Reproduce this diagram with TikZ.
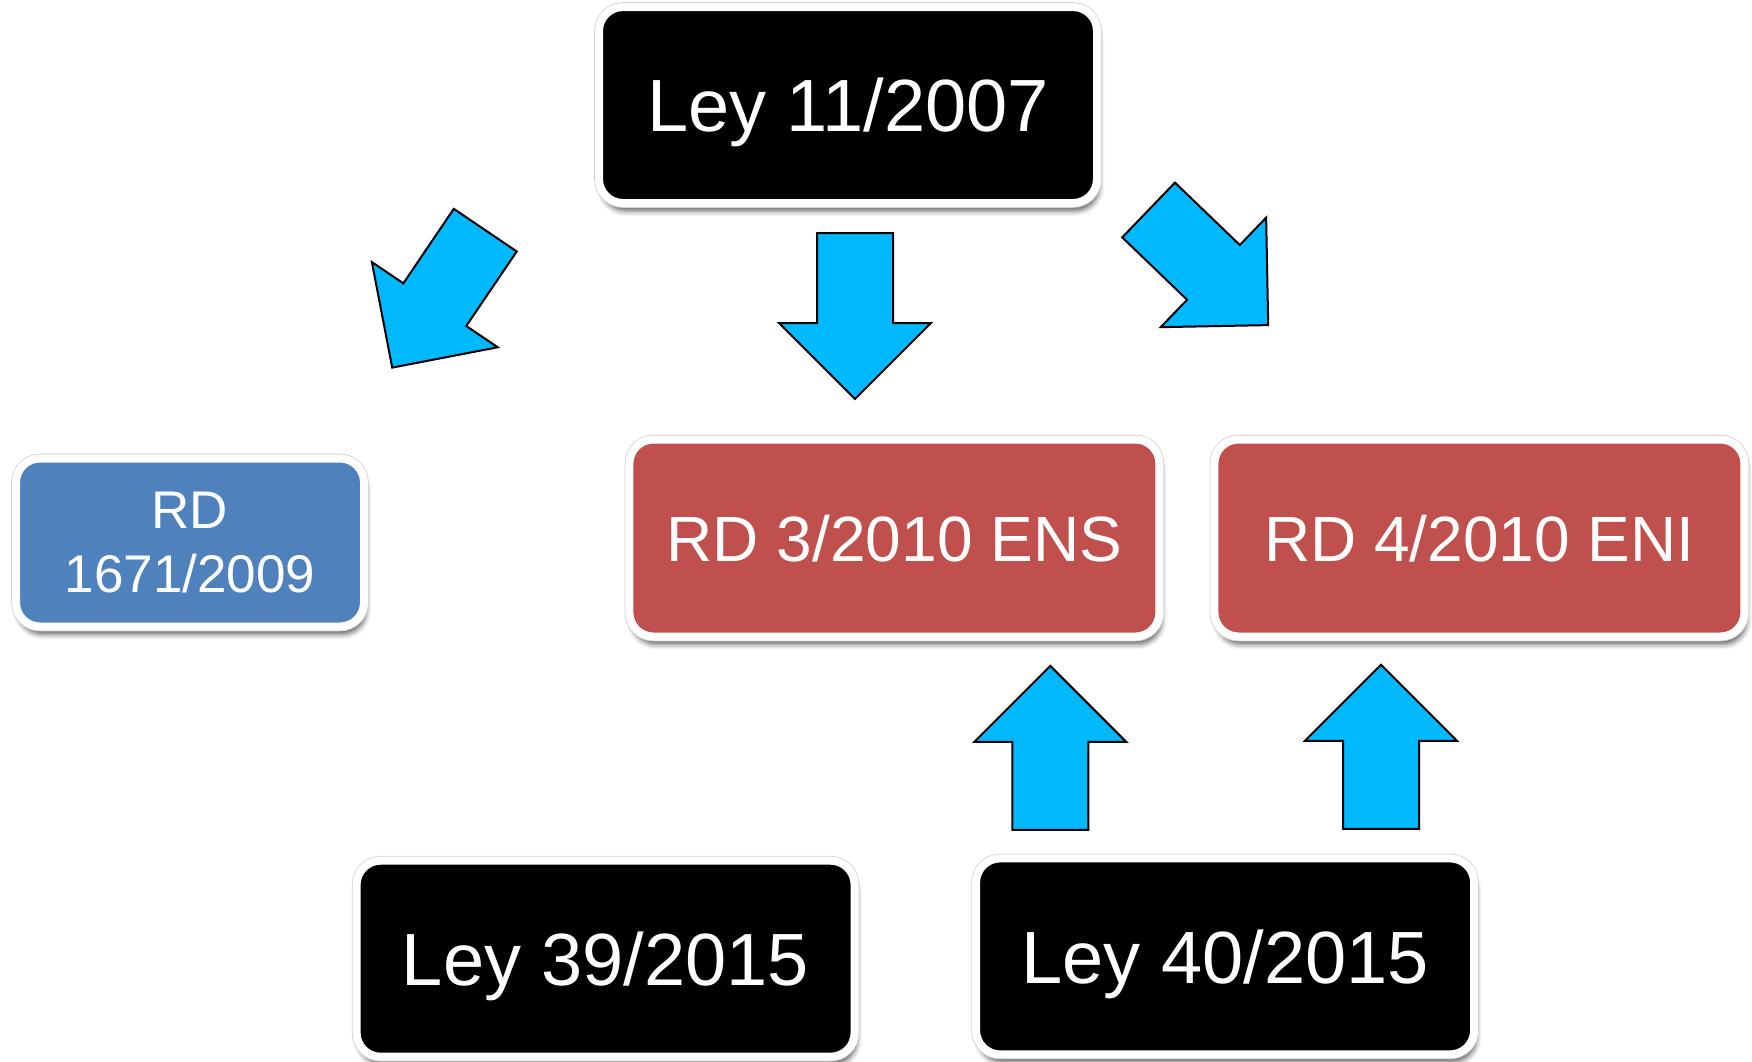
\documentclass[tikz,border=0pt]{standalone}
\usepackage{fontspec}
\setmainfont{Liberation Sans}
\usetikzlibrary{shadows.blur}
\definecolor{rdblue}{HTML}{4F81BD}
\definecolor{rdred}{HTML}{C0504D}
\definecolor{flow}{HTML}{00B9FF}

\begin{document}
\begin{tikzpicture}[x=0.5pt,y=-0.5pt,
    box/.style={rectangle,rounded corners=12pt,inner sep=0pt,text=white,
      blur shadow={shadow xshift=1.2pt,shadow yshift=-4pt,shadow blur radius=2.5pt,shadow opacity=60},
      preaction={draw=black!18,line width=4.8pt},
      draw=white,line width=4pt},
    law/.style={box,fill=black,minimum width=249pt,minimum height=98pt,
      text depth=0pt,font=\fontsize{37}{44}\selectfont},
    rd/.style={box,fill=rdred,minimum width=265pt,minimum height=98.5pt,
      text depth=0pt,font=\fontsize{32}{38}\selectfont},
    blockarrow/.style={fill=flow,draw=black,line width=1pt,line join=miter}]
        \useasboundingbox (0,0) rectangle (1752,1061);

        \path
        (848,105) node[law](ley11) {Ley 11/2007}
        (190,542.5) node[box,fill=rdblue,minimum width=174pt,minimum height=84pt,
          align=center,font=\fontsize{26.5}{32.4}\selectfont](rd1671) {RD\\1671/2009}
        (894.4,538) node[rd](ens) {RD 3/2010 ENS}
        (1479.4,538) node[rd](eni) {RD 4/2010 ENI}
        (605.6,958.7) node[law](ley39) {Ley 39/2015}
        (1225.1,956.4) node[law](ley40) {Ley 40/2015}
        ;

        \draw[blockarrow,shift={(392.2,367.6)},rotate=-34.1]
          (0,0) -- (76,-76) -- (38,-76) -- (38,-166) -- (-38,-166) -- (-38,-76) -- (-76,-76) -- cycle;
        \draw[blockarrow,shift={(855,399)}]
          (0,0) -- (76,-76) -- (38,-76) -- (38,-166) -- (-38,-166) -- (-38,-76) -- (-76,-76) -- cycle;
        \draw[blockarrow,shift={(1268.2,325.1)},rotate=46.1]
          (0,0) -- (76,-76) -- (38,-76) -- (38,-166) -- (-38,-166) -- (-38,-76) -- (-76,-76) -- cycle;

        \draw[blockarrow,shift={(1050.3,665.9)},rotate=180]
          (0,0) -- (76,-76) -- (38,-76) -- (38,-164) -- (-38,-164) -- (-38,-76) -- (-76,-76) -- cycle;
        \draw[blockarrow,shift={(1381,664.8)},rotate=180]
          (0,0) -- (76,-76) -- (38,-76) -- (38,-164) -- (-38,-164) -- (-38,-76) -- (-76,-76) -- cycle;
      \end{tikzpicture}
\end{document}
